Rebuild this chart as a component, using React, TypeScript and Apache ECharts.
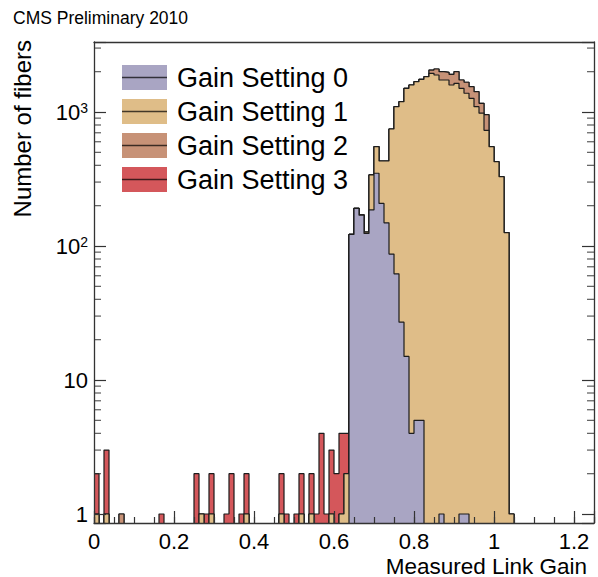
import React, { useEffect, useRef } from "react";
import * as echarts from "echarts";

// ---- data (100 bins of width 0.0125 from 0 to 1.25) ----
const X_MIN = 0;
const X_MAX = 1.25;
const N_BINS = 100;
const binLowEdges = Array.from({ length: N_BINS }, (_, i) => +((X_MAX - X_MIN) / N_BINS * i).toFixed(5));

const gain0 = [
  0, 0, 0, 0, 0, 0, 0, 0, 0, 0,
  0, 0, 0, 0, 0, 0, 0, 0, 0, 0,
  0, 0, 0, 0, 0, 0, 0, 0, 0, 0,
  0, 0, 0, 0, 0, 0, 0, 0, 0, 0,
  0, 0, 0, 0, 0, 0, 0, 0, 0, 0,
  0, 122, 191, 170, 124, 186, 349, 208, 149, 87,
  62, 27, 15, 4, 5, 5, 0, 0, 0, 1,
  0, 0, 0, 1, 1, 0, 0, 0, 0, 0,
  0, 0, 0, 0, 0, 0, 0, 0, 0, 0,
  0, 0, 0, 0, 0, 0, 0, 0, 0, 0,
];

const gain1 = [
  1, 0, 1, 0, 0, 0, 0, 0, 0, 0,
  0, 0, 0, 0, 0, 0, 0, 0, 0, 0,
  0, 1, 0, 1, 0, 0, 0, 0, 0, 0,
  1, 0, 0, 0, 0, 0, 0, 1, 0, 0,
  0, 1, 0, 1, 0, 0, 0, 1, 0, 1,
  2, 0, 0, 1, 3, 153, 202, 223, 282, 660,
  1034, 1167, 1488, 1586, 1678, 1748, 1834, 1944, 1888, 1732,
  1733, 1590, 1638, 1502, 1379, 1266, 1096, 980, 730, 551,
  426, 329, 126, 1, 0, 0, 0, 0, 0, 0,
  0, 0, 0, 0, 0, 0, 0, 0, 0, 0,
];

const gain2 = [
  0, 0, 0, 0, 0, 1, 0, 0, 0, 0,
  0, 0, 0, 0, 0, 0, 0, 0, 0, 0,
  0, 0, 0, 0, 0, 0, 0, 0, 0, 0,
  0, 0, 0, 0, 0, 0, 0, 0, 0, 0,
  0, 0, 0, 0, 0, 0, 0, 0, 0, 0,
  0, 0, 0, 0, 0, 0, 0, 0, 0, 0,
  0, 0, 0, 0, 0, 0, 0, 113, 206, 267,
  244, 320, 362, 230, 287, 279, 322, 181, 225, 0,
  0, 0, 0, 0, 0, 0, 0, 0, 0, 0,
  0, 0, 0, 0, 0, 0, 0, 0, 0, 0,
];

const gain3 = [
  1, 0, 2, 0, 0, 0, 0, 0, 0, 0,
  0, 0, 0, 1, 0, 0, 0, 0, 0, 0,
  2, 0, 1, 1, 0, 0, 1, 2, 0, 1,
  1, 0, 0, 0, 0, 0, 0, 1, 1, 0,
  1, 1, 0, 1, 1, 4, 1, 2, 2, 3,
  2, 0, 0, 0, 0, 0, 2, 0, 0, 0,
  0, 0, 0, 0, 0, 0, 0, 0, 0, 0,
  0, 0, 0, 0, 0, 0, 0, 0, 0, 0,
  0, 0, 0, 0, 0, 0, 0, 0, 0, 0,
  0, 0, 0, 0, 0, 0, 0, 0, 0, 0,
];

const seriesNames = ["Gain Setting 0", "Gain Setting 1", "Gain Setting 2", "Gain Setting 3"];
const seriesColors = ["#a9a5c3", "#dfbd88", "#c79277", "#d4575b"];

const xTickInterval = 0.2;
const xMinorInterval = 0.05;
const yMin = 0.857;
const yMax = 3330;

const FONT = '"Liberation Sans", Arial, Helvetica, sans-serif';
const FLOOR = 0.01; // empty bins drop below the axis (clipped)

function cumulative(arrays: number[][]): number[] {
  return arrays[0].map((_, i) => arrays.reduce((s, a) => s + a[i], 0));
}

function toStepData(values: number[]): [number, number][] {
  const pts: [number, number][] = binLowEdges.map((x, i) => [x, values[i] > 0 ? values[i] : FLOOR]);
  pts.push([X_MAX, FLOOR]);
  return pts;
}

export default function App() {
  const ref = useRef<HTMLDivElement>(null);

  useEffect(() => {
    if (!ref.current) return;
    const chart = echarts.init(ref.current, undefined, { renderer: "svg" });

    const layers = [gain0, gain1, gain2, gain3];
    // THStack style: draw total first, then partial sums on top
    const stackSeries = [3, 2, 1, 0].map((k, idx) => {
      const cum = cumulative(layers.slice(0, k + 1));
      return {
        name: seriesNames[k],
        type: "line",
        step: "end",
        symbol: "none",
        xAxisIndex: 0,
        yAxisIndex: 0,
        z: 2 + idx,
        silent: true,
        data: toStepData(cum),
        lineStyle: { color: "#1c1c1c", width: 1.2 },
        areaStyle: { color: seriesColors[k], opacity: 1, origin: "start" },
      };
    });

    const minorY: number[] = [];
    for (let d = 1; d <= 1000; d *= 10) {
      for (let m = 2; m <= 9; m++) {
        const v = m * d;
        if (v > yMin && v < yMax) minorY.push(v);
      }
    }

    const tickSeries = [
      {
        type: "scatter",
        xAxisIndex: 0,
        yAxisIndex: 0,
        symbol: "rect",
        symbolSize: [7, 1.2],
        symbolOffset: [3.5, 0],
        itemStyle: { color: "#333" },
        silent: true,
        clip: false,
        z: 20,
        data: minorY.map((v) => [X_MIN, v]),
      },
      {
        type: "scatter",
        xAxisIndex: 0,
        yAxisIndex: 0,
        symbol: "rect",
        symbolSize: [7, 1.2],
        symbolOffset: [-3.5, 0],
        itemStyle: { color: "#333" },
        silent: true,
        clip: false,
        z: 20,
        data: minorY.map((v) => [X_MAX, v]),
      },
    ];

    const axisLineStyle = { color: "#333", width: 1.3 };

    const logLabel = (v: number) => {
      const lg = Math.log10(v);
      const e = Math.round(lg);
      if (Math.abs(lg - e) > 1e-6) return "";
      if (e === 0) return "1";
      if (e === 1) return "10";
      return "10{sup|" + e + "}";
    };

    const legendGraphics: any[] = [];
    seriesNames.forEach((name, i) => {
      const top = 65 + i * 34;
      legendGraphics.push(
        {
          type: "rect",
          shape: { x: 122, y: top, width: 45, height: 25 },
          style: { fill: seriesColors[i] },
          z: 30,
        },
        {
          type: "line",
          shape: { x1: 122, y1: top + 12.5, x2: 167, y2: top + 12.5 },
          style: { stroke: "rgba(0,0,0,0.7)", lineWidth: 1.5 },
          z: 31,
        },
        {
          type: "text",
          x: 177,
          y: top + 13,
          style: {
            text: name,
            fill: "#000",
            fontSize: 27,
            fontFamily: FONT,
            verticalAlign: "middle",
          },
          z: 31,
        }
      );
    });

    chart.setOption({
      animation: false,
      backgroundColor: "#ffffff",
      grid: { left: 94, right: 4, top: 42, bottom: 54, containLabel: false },
      xAxis: [
        {
          type: "value",
          position: "bottom",
          min: X_MIN,
          max: X_MAX,
          interval: xTickInterval,
          z: 10,
          axisLine: { show: true, onZero: false, lineStyle: axisLineStyle },
          axisTick: { show: true, inside: true, length: 12, lineStyle: { color: "#333", width: 1.2 } },
          axisLabel: {
            show: true,
            margin: 7,
            color: "#000",
            fontSize: 22,
            lineHeight: 22,
            fontFamily: FONT,
            formatter: (v: number) => (Math.abs(v - X_MAX) < 1e-9 ? "" : String(Math.round(v * 10) / 10)),
          },
          splitLine: { show: false },
        },
        {
          type: "value",
          position: "bottom",
          min: X_MIN,
          max: X_MAX,
          interval: xMinorInterval,
          z: 10,
          axisLine: { show: false, onZero: false },
          axisTick: { show: true, inside: true, length: 6, lineStyle: { color: "#333", width: 1.2 } },
          axisLabel: { show: false },
          splitLine: { show: false },
        },
        {
          type: "value",
          position: "top",
          min: X_MIN,
          max: X_MAX,
          z: 10,
          axisLine: { show: true, onZero: false, lineStyle: axisLineStyle },
          axisTick: { show: false },
          axisLabel: { show: false },
          splitLine: { show: false },
        },
      ],
      yAxis: [
        {
          type: "log",
          logBase: 10,
          position: "left",
          min: yMin,
          max: yMax,
          z: 10,
          axisLine: { show: true, onZero: false, lineStyle: axisLineStyle },
          axisTick: { show: true, inside: true, length: 12, lineStyle: { color: "#333", width: 1.2 } },
          axisLabel: {
            show: true,
            margin: 6,
            color: "#000",
            fontSize: 22,
            fontFamily: FONT,
            formatter: logLabel,
            rich: {
              sup: { fontSize: 14, fontFamily: FONT, color: "#000", verticalAlign: "top" },
            },
          },
          splitLine: { show: false },
        },
        {
          type: "log",
          logBase: 10,
          position: "right",
          min: yMin,
          max: yMax,
          z: 10,
          axisLine: { show: true, onZero: false, lineStyle: axisLineStyle },
          axisTick: { show: true, inside: true, length: 12, lineStyle: { color: "#333", width: 1.2 } },
          axisLabel: { show: false },
          splitLine: { show: false },
        },
      ],
      series: [...stackSeries, ...tickSeries],
      graphic: [
        {
          type: "text",
          x: 13,
          y: 18,
          style: { text: "CMS Preliminary 2010", fill: "#000", fontSize: 17.5, fontFamily: FONT, verticalAlign: "middle" },
        },
        {
          type: "text",
          x: 22,
          y: 40,
          rotation: Math.PI / 2,
          style: {
            text: "Number of fibers",
            fill: "#000",
            fontSize: 24,
            fontFamily: FONT,
            align: "right",
            verticalAlign: "middle",
          },
        },
        {
          type: "text",
          x: 587,
          y: 566,
          style: {
            text: "Measured Link Gain",
            fill: "#000",
            fontSize: 22.5,
            lineHeight: 21,
            fontFamily: FONT,
            align: "right",
            verticalAlign: "middle",
          },
        },
        ...legendGraphics,
      ],
    });

    return () => chart.dispose();
  }, []);

  return (
    <div
      ref={ref}
      style={{ position: "fixed", left: 0, top: 0, width: 598, height: 577, background: "#fff" }}
    />
  );
}
